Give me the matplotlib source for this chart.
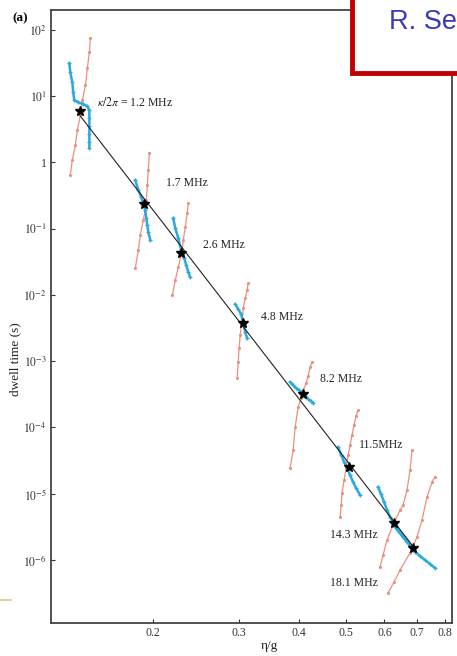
import numpy as np
import matplotlib
matplotlib.use("Agg")
import matplotlib.pyplot as plt
from matplotlib.lines import Line2D
from matplotlib.patches import Rectangle

plt.rcParams['font.family'] = ['Liberation Serif', 'DejaVu Serif']
plt.rcParams['mathtext.fontset'] = 'stix'

# ---- data ----
kappa_labels = [r"$\kappa/2\pi$ = 1.2 MHz", "1.7 MHz", "2.6 MHz", "4.8 MHz",
                "8.2 MHz", "11.5MHz", "14.3 MHz", "18.1 MHz"]
label_x = [0.1533, 0.2127, 0.2536, 0.334, 0.4418, 0.532, 0.4636, 0.4636]
label_y = [8.09, 0.486, 0.0564, 4.62e-3, 5.37e-4, 5.43e-5, 2.38e-6, 4.5e-7]

star_x = [0.1414, 0.1917, 0.228, 0.307, 0.408, 0.507, 0.628, 0.687]
star_y = [5.9, 0.234, 0.0427, 3.76e-3, 3.19e-4, 2.53e-5, 3.61e-6, 1.52e-6]

red_x = [
    [0.1348, 0.1361, 0.1381, 0.1394, 0.1414, 0.1428, 0.1449, 0.1462, 0.1476, 0.1483],
    [0.1836, 0.1863, 0.1880, 0.1907, 0.1925, 0.1935, 0.1944, 0.1953, 0.1963],
    [0.2189, 0.2220, 0.2252, 0.2295, 0.2306, 0.2328, 0.2350, 0.2362],
    [0.2980, 0.2994, 0.3008, 0.3022, 0.3051, 0.3066, 0.3095, 0.3124, 0.3140],
    [0.3833, 0.3888, 0.3925, 0.3981, 0.4039, 0.4077, 0.4136, 0.4175, 0.4215, 0.4255],
    [0.4861, 0.4884, 0.4907, 0.4954, 0.5001, 0.5048, 0.5096, 0.5144, 0.5193, 0.5243, 0.5293],
    [0.5875, 0.5961, 0.6075, 0.6250, 0.6462, 0.6555, 0.6680, 0.6776, 0.6840],
    [0.6103, 0.6280, 0.6462, 0.6776, 0.7004, 0.7172, 0.7344, 0.7522, 0.7629],
]
red_y = [
    [0.64, 1.08, 1.82, 3.06, 5.15, 8.67, 14.6, 26.4, 45.9, 74.7],
    [0.0254, 0.0474, 0.0798, 0.134, 0.190, 0.269, 0.453, 0.762, 1.38],
    [0.00993, 0.0167, 0.0262, 0.0474, 0.0672, 0.105, 0.171, 0.243],
    [5.56e-4, 9.68e-4, 1.58e-3, 2.48e-3, 4.17e-3, 6.32e-3, 8.95e-3, 0.0118, 0.0151],
    [2.44e-5, 4.56e-5, 1.01e-4, 2.03e-4, 2.77e-4, 3.66e-4, 4.68e-4, 5.96e-4, 8.15e-4, 9.68e-4],
    [4.46e-6, 6.76e-6, 1.03e-5, 1.61e-5, 2.44e-5, 3.84e-5, 5.43e-5, 7.67e-5, 1.09e-4, 1.49e-4, 1.83e-4],
    [7.84e-7, 1.19e-6, 2.00e-6, 3.37e-6, 5.68e-6, 6.76e-6, 1.14e-5, 2.28e-5, 4.56e-5],
    [3.18e-7, 4.66e-7, 7.06e-7, 1.28e-6, 2.22e-6, 4.01e-6, 8.91e-6, 1.50e-5, 1.79e-5],
]

blue_x = [
    [0.1342, 0.1348, 0.1361, 0.1367, 0.1374, 0.1401, 0.1435, 0.1462, 0.1476, 0.1476, 0.1476, 0.1476, 0.1476, 0.1476],
    [0.1836, 0.1863, 0.1889, 0.1907, 0.1925, 0.1935, 0.1944, 0.1953, 0.1972],
    [0.2199, 0.2220, 0.2252, 0.2284, 0.2317, 0.2339, 0.2362, 0.2384],
    [0.2952, 0.2994, 0.3036, 0.3066, 0.3095, 0.3124],
    [0.3833, 0.3888, 0.3943, 0.4000, 0.4058, 0.4116, 0.4175, 0.4235, 0.4276],
    [0.4814, 0.4884, 0.4954, 0.5024, 0.5096, 0.5169, 0.5243, 0.5343],
    [0.5820, 0.5904, 0.5989, 0.6075, 0.6162, 0.6280, 0.6401, 0.6523, 0.6648, 0.6776, 0.6873],
    [0.6310, 0.6431, 0.6555, 0.6680, 0.6809, 0.6938, 0.7105, 0.7275, 0.7450, 0.7629],
]
blue_y = [
    [31.3, 22.9, 16.2, 11.5, 8.67, 8.09, 7.55, 7.04, 6.13, 4.64, 3.52, 2.66, 2.02, 1.64],
    [0.540, 0.381, 0.298, 0.243, 0.190, 0.144, 0.113, 0.0885, 0.0672],
    [0.144, 0.102, 0.0720, 0.0474, 0.0359, 0.0281, 0.0221, 0.0185],
    [7.26e-3, 6.11e-3, 5.13e-3, 3.89e-3, 2.75e-3, 2.23e-3],
    [4.84e-4, 4.37e-4, 3.93e-4, 3.66e-4, 3.30e-4, 2.98e-4, 2.68e-4, 2.50e-4, 2.33e-4],
    [5.06e-5, 3.84e-5, 3.01e-5, 2.44e-5, 1.91e-5, 1.50e-5, 1.22e-5, 9.55e-6],
    [1.26e-5, 9.89e-6, 7.50e-6, 5.68e-6, 4.46e-6, 3.61e-6, 2.83e-6, 2.38e-6, 2.00e-6, 1.68e-6, 1.42e-6],
    [3.15e-6, 2.64e-6, 2.22e-6, 1.87e-6, 1.57e-6, 1.32e-6, 1.15e-6, 1.0e-6, 8.71e-7, 7.57e-7],
]

x_ticks = [0.2, 0.3, 0.4, 0.5, 0.6, 0.7, 0.8]
x_ticklabels = ["0.2", "0.3", "0.4", "0.5", "0.6", "0.7", "0.8"]
y_ticks = [1e2, 1e1, 1, 1e-1, 1e-2, 1e-3, 1e-4, 1e-5, 1e-6]
y_ticklabels = [r"$10^{2}$", r"$10^{1}$", "1", r"$10^{-1}$", r"$10^{-2}$",
                r"$10^{-3}$", r"$10^{-4}$", r"$10^{-5}$", r"$10^{-6}$"]

RED = "#ec8f80"
BLUE = "#2ba8dc"

fig = plt.figure(figsize=(4.57, 6.56), dpi=100)
ax = fig.add_axes([0.1116, 0.0503, 0.8774, 0.9345])
ax.set_xscale('log')
ax.set_yscale('log')
ax.set_xlim(0.123, 0.827)
ax.set_ylim(1.12e-7, 200)

for xs, ys in zip(red_x, red_y):
    ax.plot(xs, ys, color=RED, lw=0.9, marker='.', ms=2.5, zorder=2)
for xs, ys in zip(blue_x, blue_y):
    ax.plot(xs, ys, color=BLUE, lw=1.8, marker='+', ms=3.5, mew=0.9, zorder=3)

# straight power-law line through the stars
p = np.polyfit(np.log10(star_x), np.log10(star_y), 1)
fx = np.array([min(star_x), max(star_x)])
ax.plot(fx, 10 ** np.polyval(p, np.log10(fx)), color='#222222', lw=0.8, zorder=4)
ax.plot(star_x, star_y, linestyle='none', marker='*', color='black', ms=7, zorder=5)

for t, lx, ly in zip(kappa_labels, label_x, label_y):
    ax.text(lx, ly, t, fontsize=8.5, ha='left', va='center', color='#222222')

ax.xaxis.set_major_locator(matplotlib.ticker.FixedLocator(x_ticks))
ax.xaxis.set_minor_locator(matplotlib.ticker.NullLocator())
ax.set_xticklabels(x_ticklabels)
ax.yaxis.set_major_locator(matplotlib.ticker.FixedLocator(y_ticks))
ax.yaxis.set_minor_locator(matplotlib.ticker.NullLocator())
ax.set_yticklabels(y_ticklabels)
ax.tick_params(direction='in', length=3, width=0.8, labelsize=8.5, colors='#333333', pad=3)

for s in ax.spines.values():
    s.set_color('#444444')
    s.set_linewidth(1.3)

ax.set_ylabel("dwell time (s)", fontsize=9.5, color='#222222')
ax.yaxis.set_label_coords(-0.075, 0.43)
ax.set_xlabel("η/g", fontsize=9.5, color='#222222')
ax.xaxis.set_label_coords(0.545, -0.028)

fig.text(12 / 457, 1 - 18 / 656, "(a)", fontsize=9.5, fontweight='bold', va='center', ha='left')

# slide overlay box in the top-right corner
fig.patches.append(Rectangle((352 / 457, 1 - 73 / 656), 0.3, 0.2, transform=fig.transFigure,
                             facecolor='white', edgecolor='#c00000', lw=3.5, zorder=10))
fig.text(389 / 457, 1 - 22 / 656, "R. Se", fontsize=19.5, color='#3a3ab8',
         family='Liberation Sans', va='center', ha='left', zorder=11)
fig.add_artist(Line2D([0, 11 / 457], [1 - 600 / 656, 1 - 600 / 656], color='#d2c98e', lw=1.2))

fig.savefig("out.png", dpi=100)
